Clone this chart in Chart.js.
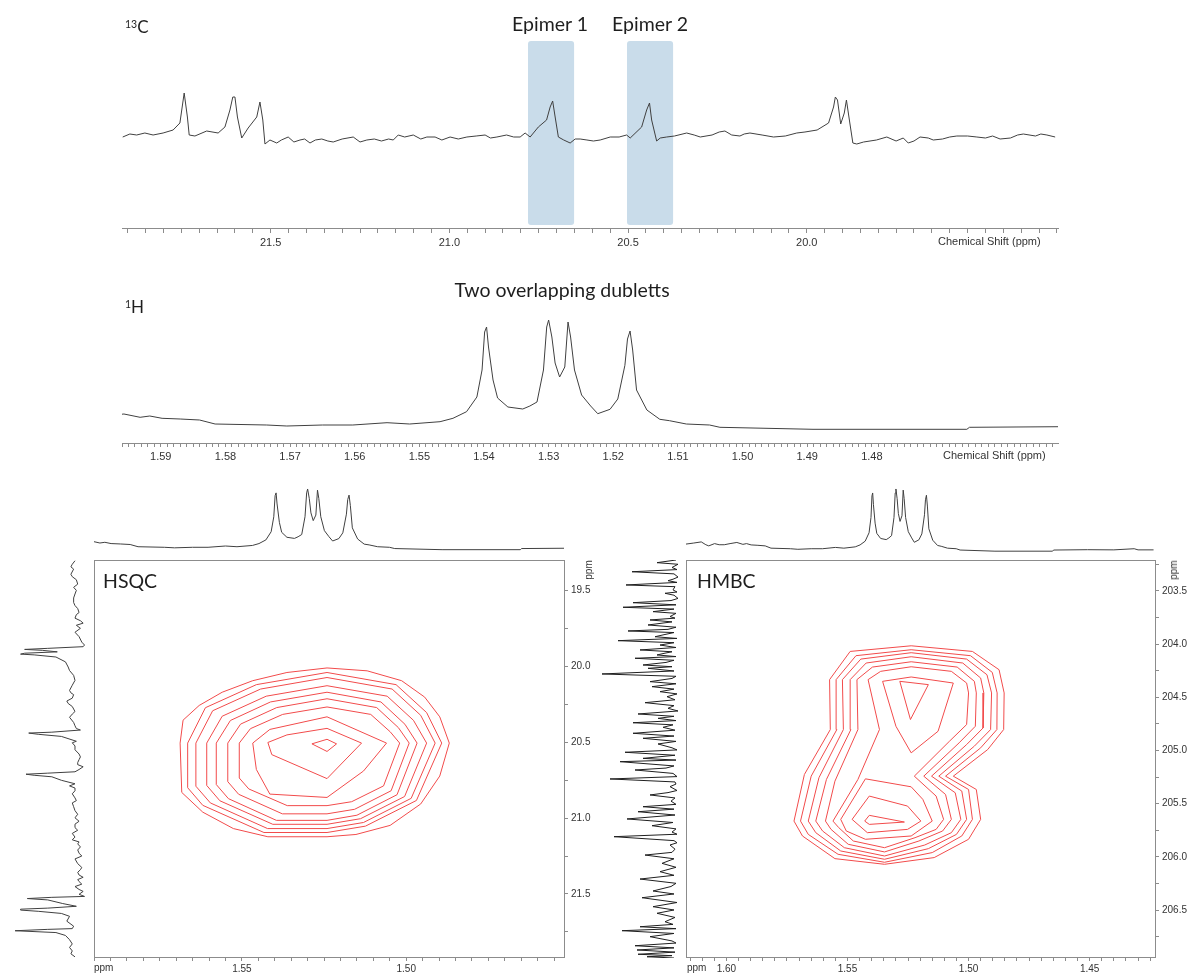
<!DOCTYPE html>
<html lang="en">
<head>
<meta charset="utf-8">
<title>13C / 1H / HSQC / HMBC</title>
<script src="https://cdn.jsdelivr.net/npm/chart.js@4.4.1/dist/chart.umd.min.js"></script>
<style>
  body { margin: 0; background: #fff; }
  #figure { position: relative; width: 1189px; height: 975px; overflow: hidden; background: #fff; }
  #figure canvas { position: absolute; }
  .txt { position: absolute; white-space: nowrap; line-height: 1; color: #1e1e1e; font-family: Lato, "Open Sans", sans-serif; }
  .small { position: absolute; white-space: nowrap; line-height: 1; color: #333; font-family: "Liberation Sans", Arial, sans-serif; font-size: 11px; }
  .sup { font-size: 10.5px; vertical-align: 5px; }
</style>
</head>
<body>
<div id="figure">
  <canvas id="c13Chart" width="1189" height="260" style="left:0;top:0"></canvas>
  <canvas id="h1Chart" width="1189" height="200" style="left:0;top:270px"></canvas>
  <canvas id="hsqcTop" width="470" height="80" style="left:94px;top:478px"></canvas>
  <canvas id="hsqcSide" width="92" height="397" style="left:0;top:560px"></canvas>
  <canvas id="hsqcChart" width="560" height="435" style="left:60px;top:540px"></canvas>
  <canvas id="hmbcTop" width="469" height="80" style="left:686px;top:478px"></canvas>
  <canvas id="hmbcSide" width="86" height="398" style="left:600px;top:560px"></canvas>
  <canvas id="hmbcChart" width="539" height="435" style="left:650px;top:540px"></canvas>

  <div class="txt" style="left:125px;top:18px;font-size:17px"><span class="sup">13</span>C</div>
  <div class="txt" style="left:550px;top:14px;font-size:19.5px;transform:translateX(-50%)">Epimer 1</div>
  <div class="txt" style="left:650px;top:14px;font-size:19.5px;transform:translateX(-50%)">Epimer 2</div>
  <div class="small" style="left:938px;top:236px">Chemical Shift (ppm)</div>

  <div class="txt" style="left:562px;top:280px;font-size:19.5px;transform:translateX(-50%)">Two overlapping dubletts</div>
  <div class="txt" style="left:125px;top:298px;font-size:17px"><span class="sup">1</span>H</div>
  <div class="small" style="left:943px;top:450px">Chemical Shift (ppm)</div>

  <div class="txt" style="left:103px;top:571px;font-size:19.5px">HSQC</div>
  <div class="txt" style="left:697px;top:571px;font-size:19.5px">HMBC</div>
  <div class="small" style="left:589px;top:570px;font-size:10px;transform:translate(-50%,-50%) rotate(-90deg)">ppm</div>
  <div class="small" style="left:1174px;top:570px;font-size:10px;transform:translate(-50%,-50%) rotate(-90deg)">ppm</div>
  <div class="small" style="left:94px;top:963px;font-size:10px">ppm</div>
  <div class="small" style="left:687px;top:963px;font-size:10px">ppm</div>
</div>

<script>
// 13C spectrum: [shift ppm, intensity]
const c13Spectrum = [
  [21.914, 91], [21.894, 94], [21.875, 93], [21.852, 95], [21.829, 93], [21.801, 95], [21.773, 98], [21.754, 105],
  [21.742, 135], [21.733, 111], [21.728, 93], [21.712, 92], [21.679, 97], [21.647, 95], [21.628, 101], [21.614, 118],
  [21.606, 131], [21.600, 131], [21.593, 111], [21.581, 90], [21.563, 100], [21.539, 111], [21.530, 126], [21.522, 108],
  [21.516, 84], [21.502, 88], [21.483, 85], [21.470, 88], [21.451, 91], [21.435, 86], [21.418, 88], [21.405, 89],
  [21.390, 85], [21.375, 88], [21.357, 89], [21.340, 87], [21.325, 86], [21.300, 89], [21.269, 91], [21.250, 86],
  [21.231, 88], [21.210, 89], [21.190, 87], [21.170, 89], [21.157, 88], [21.143, 93], [21.125, 91], [21.101, 93],
  [21.080, 89], [21.063, 91], [21.040, 91], [21.021, 88], [20.998, 91], [20.975, 89], [20.951, 91], [20.925, 92],
  [20.900, 93], [20.885, 90], [20.867, 91], [20.840, 93], [20.820, 91], [20.802, 91], [20.788, 95], [20.774, 91],
  [20.751, 101], [20.728, 108], [20.718, 121], [20.711, 127], [20.704, 111], [20.695, 91], [20.680, 88], [20.662, 85],
  [20.648, 89], [20.634, 89], [20.615, 88], [20.597, 87], [20.578, 88], [20.550, 91], [20.525, 91], [20.504, 93],
  [20.494, 90], [20.462, 101], [20.448, 118], [20.440, 125], [20.434, 108], [20.420, 87], [20.410, 90], [20.392, 91],
  [20.370, 92], [20.336, 95], [20.315, 93], [20.298, 91], [20.265, 93], [20.245, 96], [20.229, 97], [20.210, 93],
  [20.187, 92], [20.175, 94], [20.159, 95], [20.125, 93], [20.093, 91], [20.060, 92], [20.028, 95], [20.005, 96],
  [19.971, 98], [19.939, 105], [19.925, 121], [19.920, 131], [19.914, 128], [19.905, 104], [19.895, 115], [19.889, 128],
  [19.882, 111], [19.871, 85], [19.860, 84], [19.841, 86], [19.805, 88], [19.776, 91], [19.750, 87], [19.730, 90],
  [19.716, 85], [19.700, 87], [19.683, 91], [19.660, 90], [19.646, 88], [19.620, 89], [19.600, 91], [19.580, 92],
  [19.550, 92], [19.524, 91], [19.500, 90], [19.480, 92], [19.459, 89], [19.430, 90], [19.410, 93], [19.394, 94],
  [19.360, 92], [19.345, 94], [19.328, 93], [19.305, 91]
];
const c13Range = [19.297, 21.916];
const c13Labels = [21.5, 21.0, 20.5, 20.0];
const epimerRanges = [[20.780, 20.651], [20.503, 20.374]];
const epimerBandSpan = [3, 187];

// 1H spectrum: [shift ppm, intensity]
const h1Spectrum = [
  [1.6170, 13], [1.6135, 15], [1.6104, 17], [1.6085, 12], [1.6073, 10], [1.6049, 14], [1.6030, 12], [1.6009, 12],
  [1.5985, 14], [1.5957, 16], [1.5932, 12.7], [1.5917, 14], [1.5898, 11.7], [1.5870, 11], [1.5840, 10], [1.5816, 6],
  [1.5736, 5], [1.5705, 4], [1.5650, 5], [1.5603, 5], [1.5550, 7.3], [1.5515, 6], [1.5468, 8.3], [1.5448, 11.7],
  [1.5427, 18.3], [1.5411, 33], [1.5403, 60], [1.5399, 98], [1.5396, 103], [1.5393, 83], [1.5386, 50], [1.5379, 32],
  [1.5363, 23], [1.5340, 21], [1.5329, 24], [1.5318, 28], [1.5308, 60], [1.5303, 103], [1.5300, 110], [1.5295, 93],
  [1.5290, 67], [1.5283, 53], [1.5275, 63], [1.5270, 108], [1.5266, 93], [1.5260, 60], [1.5249, 35], [1.5235, 24],
  [1.5224, 16.3], [1.5205, 20.7], [1.5193, 31], [1.5182, 64.7], [1.5178, 91], [1.5174, 99], [1.5170, 80], [1.5164, 40],
  [1.5148, 20], [1.5128, 10.7], [1.5113, 9.3], [1.5087, 6], [1.5051, 5], [1.5035, 2.7], [1.4891, 0.7], [1.4653, 0.7],
  [1.4649, 2.7], [1.4509, 3.3], [1.4400, 3], [1.4316, 5], [1.4300, 3], [1.4236, 3]
];
const h1Range = [1.4512, 1.5960];
const h1Labels = [1.59, 1.58, 1.57, 1.56, 1.55, 1.54, 1.53, 1.52, 1.51, 1.50, 1.49, 1.48];

// HSQC
const hsqcHRange = [1.4520, 1.5950];
const hsqcCRange = [19.30, 21.915];
const hsqcHLabels = [1.55, 1.50];
const hsqcCLabels = [19.5, 20.0, 20.5, 21.0, 21.5];
const hsqcContours = [
  [[1.5688, 20.506], [1.5679, 20.355], [1.5630, 20.258], [1.5560, 20.171], [1.5467, 20.095], [1.5363, 20.041], [1.5241, 20.011],
   [1.5119, 20.030], [1.5014, 20.095], [1.4944, 20.203], [1.4898, 20.333], [1.4869, 20.506], [1.4898, 20.723], [1.4956, 20.907],
   [1.5049, 21.048], [1.5153, 21.108], [1.5241, 21.123], [1.5421, 21.123], [1.5526, 21.069], [1.5619, 20.961], [1.5683, 20.831]],
  [[1.5665, 20.506], [1.5611, 20.273], [1.5456, 20.121], [1.5241, 20.041], [1.5031, 20.121], [1.4938, 20.305], [1.4892, 20.506],
   [1.4969, 20.884], [1.5124, 21.053], [1.5241, 21.095], [1.5433, 21.095], [1.5619, 20.916], [1.5665, 20.800]],
  [[1.5640, 20.506], [1.5589, 20.293], [1.5443, 20.150], [1.5241, 20.074], [1.5043, 20.150], [1.4956, 20.323], [1.4912, 20.506],
   [1.4985, 20.870], [1.5130, 21.029], [1.5241, 21.069], [1.5422, 21.069], [1.5596, 20.900], [1.5640, 20.790]],
  [[1.5607, 20.506], [1.5560, 20.329], [1.5426, 20.197], [1.5241, 20.128], [1.5058, 20.197], [1.4978, 20.356], [1.4938, 20.506],
   [1.5005, 20.858], [1.5139, 21.004], [1.5241, 21.041], [1.5406, 21.041], [1.5567, 20.886], [1.5607, 20.785]],
  [[1.5578, 20.506], [1.5535, 20.357], [1.5413, 20.235], [1.5241, 20.171], [1.5077, 20.235], [1.5004, 20.382], [1.4967, 20.506],
   [1.5028, 20.846], [1.5150, 20.981], [1.5241, 21.015], [1.5395, 21.015], [1.5541, 20.872], [1.5578, 20.779]],
  [[1.5543, 20.506], [1.5504, 20.381], [1.5394, 20.272], [1.5241, 20.214], [1.5090, 20.272], [1.5024, 20.404], [1.4991, 20.506],
   [1.5046, 20.820], [1.5157, 20.942], [1.5241, 20.972], [1.5377, 20.972], [1.5510, 20.843], [1.5543, 20.760]],
  [[1.5508, 20.506], [1.5474, 20.411], [1.5376, 20.317], [1.5241, 20.268], [1.5108, 20.317], [1.5049, 20.431], [1.5020, 20.506],
   [1.5069, 20.788], [1.5166, 20.892], [1.5241, 20.918], [1.5362, 20.918], [1.5479, 20.808], [1.5508, 20.736]],
  [[1.5467, 20.506], [1.5415, 20.416], [1.5241, 20.333], [1.5060, 20.506], [1.5130, 20.690], [1.5241, 20.864], [1.5415, 20.842], [1.5456, 20.680]],
  [[1.5421, 20.502], [1.5363, 20.452], [1.5241, 20.409], [1.5136, 20.506], [1.5241, 20.740], [1.5409, 20.582]],
  [[1.5287, 20.511], [1.5241, 20.481], [1.5212, 20.511], [1.5241, 20.561]]
];

// HMBC
const hmbcHRange = [1.4230, 1.6167];
const hmbcCRange = [203.21, 206.94];
const hmbcHLabels = [1.60, 1.55, 1.50, 1.45];
const hmbcCLabels = [203.5, 204.0, 204.5, 205.0, 205.5, 206.0, 206.5];
// carbonyl 13C projection: [shift ppm, intensity]
const hmbcCarbonProjection = [
  [203.21, 10], [203.235, 29], [203.25, 8], [203.28, 14], [203.30, 9], [203.32, 54], [203.34, 12], [203.37, 8],
  [203.39, 13], [203.404, 18], [203.42, 9], [203.444, 60], [203.46, 11], [203.49, 13], [203.51, 9], [203.522, 21],
  [203.54, 12], [203.57, 8], [203.59, 15], [203.61, 53], [203.63, 10], [203.653, 63], [203.67, 12], [203.694, 33],
  [203.71, 10], [203.74, 16], [203.755, 11], [203.772, 36], [203.79, 14], [203.819, 38], [203.84, 10], [203.86, 18],
  [203.875, 58], [203.89, 12], [203.91, 22], [203.929, 31], [203.945, 9], [203.966, 68], [203.985, 12], [204.007, 26],
  [204.03, 10], [204.053, 46], [204.07, 14], [204.085, 22], [204.100, 29], [204.115, 10], [204.131, 51], [204.15, 12],
  [204.17, 20], [204.194, 43], [204.21, 14], [204.225, 38], [204.25, 12], [204.278, 84], [204.30, 10], [204.32, 14],
  [204.350, 36], [204.37, 10], [204.397, 34], [204.42, 12], [204.444, 26], [204.465, 9], [204.491, 19], [204.52, 11],
  [204.547, 41], [204.575, 12], [204.600, 18], [204.625, 8], [204.653, 48], [204.675, 12], [204.694, 28], [204.715, 10],
  [204.735, 53], [204.755, 13], [204.778, 23], [204.805, 11], [204.834, 53], [204.86, 12], [204.881, 43], [204.91, 10],
  [204.934, 28], [204.97, 14], [204.99, 9], [205.012, 61], [205.04, 11], [205.069, 43], [205.085, 10], [205.100, 66],
  [205.14, 12], [205.16, 20], [205.178, 51], [205.21, 13], [205.24, 9], [205.262, 76], [205.29, 11], [205.31, 10],
  [205.334, 16], [205.37, 9], [205.39, 18], [205.412, 36], [205.44, 11], [205.47, 15], [205.50, 10], [205.522, 43],
  [205.545, 12], [205.569, 48], [205.60, 11], [205.637, 59], [205.67, 13], [205.700, 34], [205.73, 10], [205.76, 14],
  [205.78, 9], [205.803, 72], [205.84, 12], [205.86, 9], [205.881, 16], [205.92, 11], [205.95, 14], [205.975, 41],
  [206.01, 12], [206.053, 24], [206.09, 10], [206.131, 26], [206.165, 12], [206.200, 46], [206.24, 10], [206.27, 15],
  [206.312, 33], [206.34, 12], [206.375, 44], [206.42, 9], [206.459, 33], [206.49, 12], [206.521, 29], [206.56, 11],
  [206.600, 21], [206.625, 13], [206.647, 46], [206.665, 10], [206.684, 64], [206.71, 12], [206.740, 36], [206.78, 14],
  [206.80, 10], [206.825, 51], [206.845, 12], [206.865, 49], [206.885, 11], [206.905, 48], [206.918, 14], [206.928, 39],
  [206.94, 12]
];
const hmbcContours = [
  [[1.5237, 204.016], [1.4984, 204.069], [1.4874, 204.241], [1.4853, 204.459], [1.4855, 204.803], [1.4921, 204.991], [1.5063, 205.241],
   [1.4968, 205.366], [1.4950, 205.647], [1.5000, 205.834], [1.5142, 206.006], [1.5347, 206.069], [1.5552, 206.016], [1.5686, 205.803],
   [1.5721, 205.663], [1.5678, 205.225], [1.5571, 204.803], [1.5574, 204.334], [1.5489, 204.069]],
  [[1.5237, 204.053], [1.4992, 204.109], [1.4902, 204.266], [1.4882, 204.459], [1.4883, 204.803], [1.4950, 204.975], [1.5095, 205.241],
   [1.5000, 205.366], [1.4984, 205.647], [1.5028, 205.803], [1.5150, 205.959], [1.5347, 206.050], [1.5539, 205.975], [1.5662, 205.788],
   [1.5694, 205.663], [1.5650, 205.241], [1.5544, 204.803], [1.5547, 204.334], [1.5465, 204.109]],
  [[1.5237, 204.081], [1.5008, 204.141], [1.4924, 204.288], [1.4905, 204.459], [1.4909, 204.803], [1.4976, 204.959], [1.5123, 205.241],
   [1.5028, 205.381], [1.5008, 205.647], [1.5050, 205.788], [1.5166, 205.922], [1.5347, 206.022], [1.5528, 205.944], [1.5631, 205.772],
   [1.5662, 205.663], [1.5618, 205.256], [1.5517, 204.803], [1.5521, 204.334], [1.5445, 204.141]],
  [[1.5237, 204.119], [1.5024, 204.178], [1.4950, 204.319], [1.4937, 204.459], [1.4940, 204.788], [1.5008, 204.944], [1.5153, 205.241],
   [1.5055, 205.397], [1.5032, 205.647], [1.5071, 205.772], [1.5181, 205.888], [1.5347, 205.991], [1.5513, 205.913], [1.5603, 205.756],
   [1.5631, 205.663], [1.5587, 205.272], [1.5486, 204.803], [1.5489, 204.334], [1.5423, 204.178]],
  [[1.5237, 204.166], [1.5047, 204.216], [1.4976, 204.350], [1.4968, 204.459], [1.4972, 204.772], [1.5039, 204.928], [1.5185, 205.241],
   [1.5095, 205.413], [1.5071, 205.647], [1.5107, 205.756], [1.5205, 205.850], [1.5347, 205.953], [1.5497, 205.881], [1.5568, 205.741],
   [1.5591, 205.663], [1.5552, 205.288], [1.5457, 204.803], [1.5461, 204.334], [1.5397, 204.216]],
  [[1.5237, 204.213], [1.5071, 204.256], [1.5008, 204.366], [1.5000, 204.459], [1.5008, 204.756], [1.5079, 204.913], [1.5224, 205.241],
   [1.5134, 205.428], [1.5103, 205.647], [1.5134, 205.741], [1.5221, 205.819], [1.5347, 205.913], [1.5476, 205.850], [1.5536, 205.725],
   [1.5560, 205.663], [1.5457, 205.272], [1.5368, 204.803], [1.5415, 204.334], [1.5363, 204.256]],
  [[1.5355, 204.350], [1.5237, 204.309], [1.5063, 204.366], [1.5126, 204.819], [1.5237, 205.022], [1.5300, 204.772]],
  [[1.5284, 204.350], [1.5166, 204.381], [1.5240, 204.709]],
  [[1.5528, 205.647], [1.5426, 205.266], [1.5237, 205.341], [1.5189, 205.459], [1.5150, 205.663], [1.5237, 205.803], [1.5426, 205.834], [1.5505, 205.756]],
  [[1.5481, 205.647], [1.5410, 205.428], [1.5252, 205.522], [1.5197, 205.663], [1.5252, 205.741], [1.5418, 205.772]],
  [[1.5429, 205.663], [1.5410, 205.609], [1.5265, 205.672], [1.5410, 205.694]]
];

// Styling
const labelFont = { family: '"Liberation Sans", Arial, sans-serif', size: 11 };
const boxFont = { family: '"Liberation Sans", Arial, sans-serif', size: 10 };
const axisGrey = '#8c8c8c';
const traceColor = '#404040';
const contourColor = '#f24b4b';

const toXY = (pairs) => pairs.map(([x, y]) => ({ x, y }));
const toYX = (pairs) => pairs.map(([y, x]) => ({ x, y }));
const closed = (pairs) => toXY([...pairs, pairs[0]]);
const labelFrom = (list, digits) => (v) => list.some(t => Math.abs(t - v) < 1e-6) ? v.toFixed(digits) : '';

function stepTicks(step) {
    return (scale) => {
        const ticks = [];
        for (let k = Math.ceil(scale.min / step - 1e-6); k * step <= scale.max + 1e-9; k++) {
            ticks.push({ value: Math.round(k * step * 1e6) / 1e6 });
        }
        scale.ticks = scale.options.reverse ? ticks.reverse() : ticks;
    };
}

function trace(data, color = traceColor) {
    return { data, showLine: true, borderColor: color, borderWidth: 1, pointRadius: 0, fill: false, tension: 0 };
}

function baseOptions(extra) {
    return Object.assign({
        responsive: false,
        animation: false,
        devicePixelRatio: 1,
        events: [],
        plugins: { legend: { display: false }, tooltip: { enabled: false } }
    }, extra);
}

function shiftAxis(range, step, labels, digits, tickLength, height, font, padding) {
    return {
        type: 'linear', min: range[0], max: range[1], reverse: true,
        border: { display: true, color: axisGrey },
        grid: { drawOnChartArea: false, tickLength, color: axisGrey, tickColor: axisGrey },
        ticks: { autoSkip: false, maxRotation: 0, minRotation: 0, padding, font, color: '#333', callback: labelFrom(labels, digits) },
        afterBuildTicks: stepTicks(step),
        afterFit: (s) => { s.height = height; }
    };
}

// shaded epimer regions in the 13C trace
const epimerBands = {
    id: 'epimerBands',
    beforeDatasetsDraw(chart) {
        const { ctx, scales: { x, y } } = chart;
        ctx.save();
        ctx.fillStyle = '#c9dcea';
        epimerRanges.forEach(([from, to]) => {
            const x0 = x.getPixelForValue(from), x1 = x.getPixelForValue(to);
            const y0 = y.getPixelForValue(epimerBandSpan[1]), y1 = y.getPixelForValue(epimerBandSpan[0]);
            ctx.beginPath();
            ctx.roundRect(Math.min(x0, x1), y0, Math.abs(x1 - x0), y1 - y0, 3);
            ctx.fill();
        });
        ctx.restore();
    }
};

const boxFrame = {
    id: 'boxFrame',
    afterDraw(chart) {
        const { ctx, chartArea: a } = chart;
        ctx.save();
        ctx.strokeStyle = axisGrey;
        ctx.lineWidth = 1;
        ctx.strokeRect(Math.round(a.left) + 0.5, Math.round(a.top) + 0.5, Math.round(a.right - a.left), Math.round(a.bottom - a.top));
        ctx.restore();
    }
};

// 1D spectra
new Chart(document.getElementById('c13Chart'), {
    type: 'scatter',
    data: { datasets: [trace(toXY(c13Spectrum))] },
    options: baseOptions({
        layout: { padding: { left: 122, right: 131, top: 28, bottom: 0 } },
        scales: {
            x: shiftAxis(c13Range, 0.05, c13Labels, 1, 5, 32, labelFont, 3),
            y: { display: false, min: 0, max: 200 }
        }
    }),
    plugins: [epimerBands]
});

new Chart(document.getElementById('h1Chart'), {
    type: 'scatter',
    data: { datasets: [trace(toXY(h1Spectrum))] },
    options: baseOptions({
        layout: { padding: { left: 122, right: 131, top: 30, bottom: 0 } },
        scales: {
            x: shiftAxis(h1Range, 0.001, h1Labels, 2, 4, 27, labelFont, 3),
            y: { display: false, min: -13, max: 130 }
        }
    })
});

// projections along the 2D maps
function topProjection(id, hRange, yRange) {
    new Chart(document.getElementById(id), {
        type: 'scatter',
        data: { datasets: [trace(toXY(h1Spectrum))] },
        options: baseOptions({
            layout: { padding: 0 },
            scales: {
                x: { display: false, min: hRange[0], max: hRange[1], reverse: true },
                y: { display: false, min: yRange[0], max: yRange[1] }
            }
        })
    });
}

function sideProjection(id, pairs, intensityRange, cRange, color) {
    new Chart(document.getElementById(id), {
        type: 'scatter',
        data: { datasets: [trace(toYX(pairs), color)] },
        options: baseOptions({
            layout: { padding: 0 },
            scales: {
                x: { display: false, min: intensityRange[0], max: intensityRange[1], reverse: true },
                y: { display: false, min: cRange[0], max: cRange[1], reverse: true }
            }
        })
    });
}

function correlationMap(id, contours, hRange, cRange, hLabels, cLabels, padLeft, rightWidth) {
    new Chart(document.getElementById(id), {
        type: 'scatter',
        data: { datasets: contours.map(c => trace(closed(c), contourColor)) },
        options: baseOptions({
            layout: { padding: { left: padLeft, right: 0, top: 20, bottom: 0 } },
            scales: {
                x: shiftAxis(hRange, 0.005, hLabels, 2, 4, 18, boxFont, 2),
                y: {
                    type: 'linear', position: 'right', min: cRange[0], max: cRange[1], reverse: true,
                    border: { display: true, color: axisGrey },
                    grid: { drawOnChartArea: false, tickLength: 4, color: axisGrey, tickColor: axisGrey },
                    ticks: { autoSkip: false, padding: 3, font: boxFont, color: '#333', callback: labelFrom(cLabels, 1) },
                    afterBuildTicks: stepTicks(0.25),
                    afterFit: (s) => { s.width = rightWidth; }
                }
            }
        }),
        plugins: [boxFrame]
    });
}

topProjection('hsqcTop', hsqcHRange, [-14.3, 129.8]);
sideProjection('hsqcSide', c13Spectrum, [78.5, 146.1], hsqcCRange, traceColor);
correlationMap('hsqcChart', hsqcContours, hsqcHRange, hsqcCRange, hsqcHLabels, hsqcCLabels, 34, 56);

topProjection('hmbcTop', hmbcHRange, [-11.3, 129.3]);
sideProjection('hmbcSide', hmbcCarbonProjection, [0, 86], hmbcCRange, '#1f1f1f');
correlationMap('hmbcChart', hmbcContours, hmbcHRange, hmbcCRange, hmbcHLabels, hmbcCLabels, 36, 34);
</script>
</body>
</html>
